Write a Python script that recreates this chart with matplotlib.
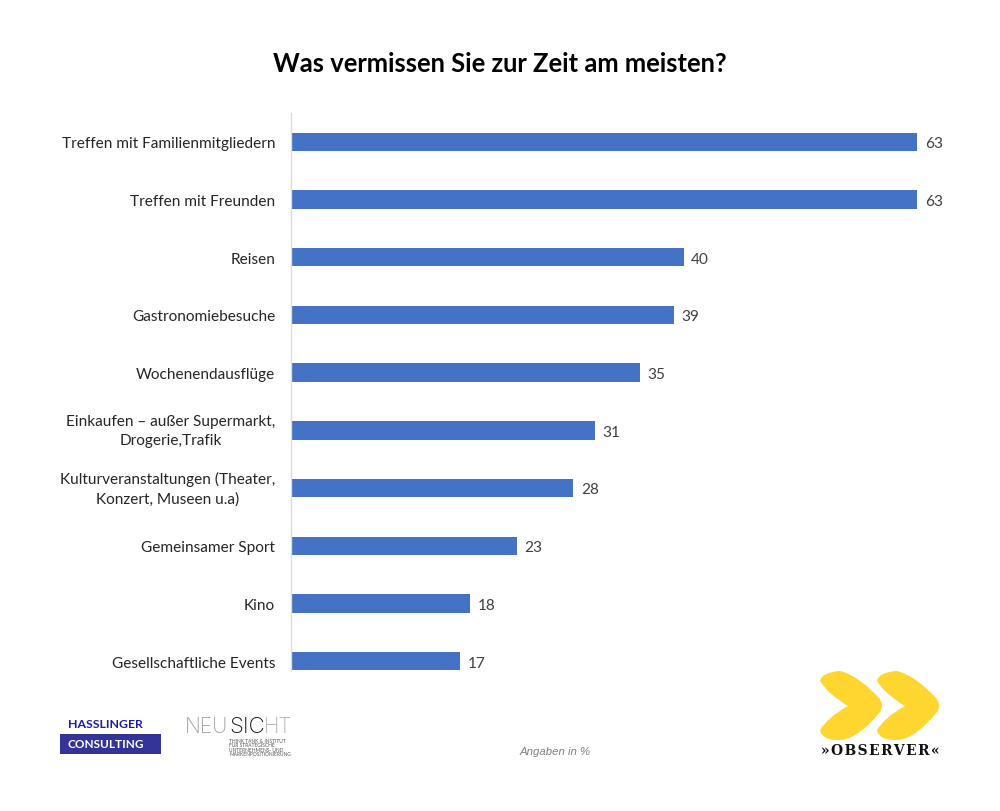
import matplotlib
matplotlib.use("Agg")
import matplotlib.pyplot as plt
from matplotlib.patches import PathPatch, Rectangle
from matplotlib.path import Path

categories = [
    "Treffen mit Familienmitgliedern",
    "Treffen mit Freunden",
    "Reisen",
    "Gastronomiebesuche",
    "Wochenendausflüge",
    "Einkaufen – außer Supermarkt,\nDrogerie,Trafik",
    "Kulturveranstaltungen (Theater,\nKonzert, Museen u.a)",
    "Gemeinsamer Sport",
    "Kino",
    "Gesellschaftliche Events",
]
# bar lengths as measured, the printed labels are rounded differently
bar_values = [63, 63, 39.5, 38.5, 35.1, 30.6, 28.4, 22.7, 18, 17]
value_labels = [63, 63, 40, 39, 35, 31, 28, 23, 18, 17]

plt.rcParams["font.family"] = ["Lato", "DejaVu Sans"]

W, H = 1000, 812
fig = plt.figure(figsize=(W / 100, H / 100), dpi=100, facecolor="white")

# main chart
left, right, top, bottom = 291, 960, 114, 691
ax = fig.add_axes([left / W, 1 - bottom / H, (right - left) / W, (bottom - top) / H])
ypos = list(range(len(categories)))
ax.barh(ypos, bar_values, height=0.32, color="#4472C4")
ax.set_xlim(0, (right - left) / 9.94)
ax.set_ylim(len(categories) - 0.5, -0.5)
ax.set_yticks(ypos)
ax.set_yticklabels(categories, fontsize=11.1, color="#262626", ma="center", linespacing=1.45)
ax.tick_params(axis="y", length=0, pad=11.5)
for tl in ax.get_yticklabels():
    if "\n" in tl.get_text():
        tl.set_va("center")
ax.xaxis.set_visible(False)
for name in ["top", "right", "bottom"]:
    ax.spines[name].set_visible(False)
ax.spines["left"].set_color("#DDDDDD")
ax.spines["left"].set_linewidth(1)
ax.spines["left"].set_bounds(-0.5, 9.17)
for y, val, lab in zip(ypos, bar_values, value_labels):
    ax.annotate(str(lab), (val, y), xytext=(5.5, -1), textcoords="offset points",
                va="center", ha="left", fontsize=11.1, color="#404040")

# overlay in pixel coordinates for title and logos
ov = fig.add_axes([0, 0, 1, 1])
ov.set_xlim(0, W)
ov.set_ylim(H, 0)
ov.axis("off")
ov.patch.set_alpha(0)

ov.text(500, 64, "Was vermissen Sie zur Zeit am meisten?", ha="center", va="center",
        fontsize=18.4, fontweight="bold", color="black")
ov.text(555, 752, "Angaben in %", ha="center", va="center", fontsize=8.2,
        style="italic", family="Liberation Sans", color="#7F7F7F")

# Hasslinger logo
ov.text(105, 725, "HASSLINGER", ha="center", va="center", fontsize=8.8,
        fontweight="bold", color="#1A1AA6")
ov.add_patch(Rectangle((60, 735), 101, 20, color="#343398", lw=0))
ov.text(106, 745, "CONSULTING", ha="center", va="center", fontsize=8.5,
        fontweight="bold", color="white")

# Neusicht logo
ov.text(228, 733, "NEU", ha="right", va="baseline", fontsize=15, fontweight="light",
        family="Inter", color="#8A8A8A", alpha=0.8)
ov.text(229, 733, "SIC", ha="left", va="baseline", fontsize=16, fontweight="light",
        family="Inter", color="#111111")
ov.text(264, 733, "HT", ha="left", va="baseline", fontsize=15, fontweight="light",
        family="Inter", color="#A0A0A0", alpha=0.8)
ov.text(229, 741.5, "THINK TANK & INSTITUT", fontsize=3.5, va="center", color="#555555")
ov.text(229, 746, "FÜR STRATEGISCHE", fontsize=3.5, va="center", color="#555555")
ov.text(229, 750.5, "UNTERNEHMENS- UND", fontsize=3.5, va="center", color="#555555")
ov.text(229, 755, "MARKENPOSITIONIERUNG", fontsize=3.5, va="center", color="#555555")

# Observer logo, two chevrons
def chevron(dx):
    verts = [(820, 682), (822, 673), (840, 672), (858, 676), (880, 700),
             (884, 707), (880, 713), (860, 738), (842, 741), (822, 742),
             (820, 731), (828, 718), (848, 707), (828, 695), (820, 682)]
    codes = [Path.MOVETO] + [Path.CURVE3] * 14
    return Path([(x + dx, y) for x, y in verts], codes)

for dx in [0, 57]:
    ov.add_patch(PathPatch(chevron(dx), facecolor="#FFD530", edgecolor="none"))
ov.text(880, 751, "\u200a".join("»OBSERVER«"), ha="center", va="center", fontsize=10,
        fontweight="bold", family="DejaVu Serif", color="#111111")

fig.savefig("out.png", dpi=100, facecolor="white")
